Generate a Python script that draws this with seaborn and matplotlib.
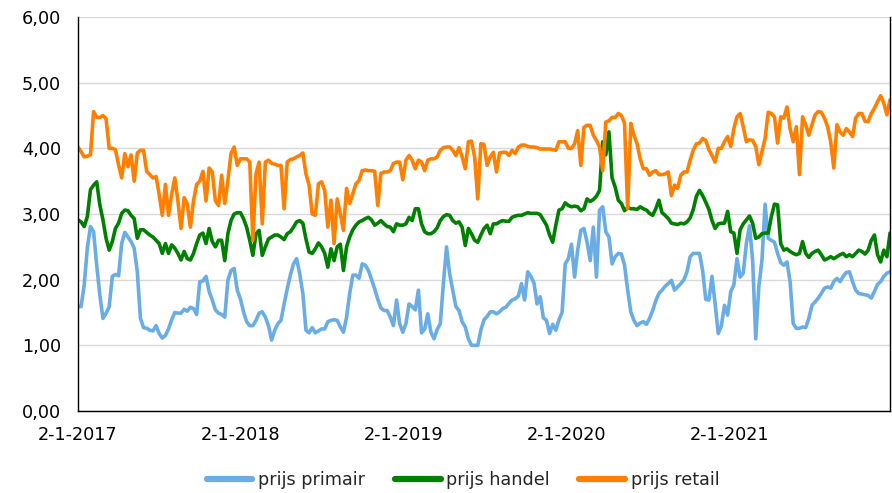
import matplotlib
matplotlib.use("Agg")
import matplotlib.pyplot as plt
import matplotlib.ticker as mticker
import pandas as pd
import seaborn as sns

# weekly prices, first week 2-1-2017
start_date = "2017-01-02"

prijs_primair = [
    1.59, 1.59, 1.92, 2.48, 2.81, 2.73, 2.22, 1.77, 1.41, 1.49, 1.59, 2.05, 2.08, 2.06, 2.55, 2.72,
    2.65, 2.58, 2.48, 2.12, 1.41, 1.27, 1.26, 1.23, 1.22, 1.30, 1.18, 1.11, 1.15, 1.25, 1.39, 1.50,
    1.49, 1.49, 1.55, 1.52, 1.58, 1.56, 1.47, 1.97, 1.98, 2.05, 1.82, 1.69, 1.54, 1.49, 1.47, 1.43,
    1.99, 2.14, 2.17,
    1.84, 1.71, 1.51, 1.36, 1.30, 1.30, 1.38, 1.49, 1.51, 1.43, 1.30, 1.08, 1.23, 1.33, 1.38, 1.63,
    1.86, 2.07, 2.24, 2.32, 2.09, 1.79, 1.23, 1.19, 1.27, 1.19, 1.22, 1.25, 1.25, 1.36, 1.38, 1.39,
    1.38, 1.28, 1.20, 1.43, 1.79, 2.07, 2.07, 2.02, 2.24, 2.22, 2.14, 2.00, 1.86, 1.70, 1.57, 1.53,
    1.53, 1.43, 1.30, 1.69, 1.33, 1.20, 1.33, 1.63,
    1.59, 1.54, 1.84, 1.19, 1.25, 1.48, 1.20, 1.10, 1.24, 1.33, 1.94, 2.50, 2.09, 1.84, 1.59, 1.53,
    1.36, 1.28, 1.10, 1.00, 1.00, 1.00, 1.23, 1.39, 1.44, 1.51, 1.51, 1.48, 1.51, 1.56, 1.58, 1.64,
    1.69, 1.71, 1.75, 1.94, 1.69, 2.12, 2.05, 1.95, 1.63, 1.74, 1.42, 1.38, 1.18, 1.32, 1.23, 1.39,
    1.50, 2.24, 2.32, 2.54, 2.04, 2.45, 2.75, 2.78, 2.57, 2.29, 2.80, 2.04, 3.06, 3.11, 2.73, 2.65,
    2.24, 2.35, 2.40, 2.39, 2.22, 1.84, 1.51, 1.38, 1.30, 1.34, 1.36, 1.32, 1.41, 1.53, 1.68, 1.79,
    1.84, 1.90, 1.94, 1.99, 1.84, 1.89, 1.94, 2.00, 2.12, 2.35, 2.40, 2.40, 2.40, 2.14, 1.70, 1.69,
    2.05, 1.63, 1.18,
    1.30, 1.61, 1.46, 1.82, 1.92, 2.32, 2.04, 2.10, 2.55, 2.82, 2.30, 1.10, 1.90, 2.30,
    3.15, 2.63, 2.60, 2.57, 2.40, 2.26, 2.22, 2.27, 1.97, 1.33, 1.26, 1.26, 1.28, 1.27, 1.41, 1.61,
    1.66, 1.72, 1.79, 1.87, 1.89, 1.87, 1.97, 2.02, 1.97, 2.05, 2.11, 2.12, 1.97, 1.84, 1.79, 1.78,
    1.77, 1.76, 1.72, 1.82, 1.93, 1.97, 2.05, 2.10, 2.12,
]

prijs_handel = [
    2.91, 2.88, 2.81, 2.96, 3.37, 3.44, 3.49, 3.14, 2.91, 2.63, 2.45, 2.58, 2.78, 2.86, 3.01, 3.06,
    3.05, 2.98, 2.93, 2.63, 2.76, 2.76, 2.72, 2.68, 2.65, 2.60, 2.55, 2.40, 2.55, 2.40, 2.53, 2.48,
    2.40, 2.30, 2.43, 2.32, 2.30, 2.40, 2.55, 2.68, 2.71, 2.55, 2.78, 2.58, 2.50, 2.60, 2.60, 2.29,
    2.70, 2.90, 3.00, 3.02,
    3.02, 2.93, 2.80, 2.60, 2.37, 2.70, 2.75, 2.37, 2.50, 2.62, 2.65, 2.68, 2.68, 2.65, 2.61, 2.70,
    2.73, 2.80, 2.88, 2.90, 2.86, 2.62, 2.42, 2.40, 2.47, 2.56, 2.50, 2.40, 2.19, 2.47, 2.29, 2.50,
    2.54, 2.14, 2.50, 2.65, 2.76, 2.83, 2.88, 2.90, 2.93, 2.95, 2.91, 2.83, 2.86, 2.90, 2.85, 2.81,
    2.80, 2.73, 2.85, 2.83, 2.83, 2.85, 2.95,
    2.90, 3.08, 3.08, 2.85, 2.73, 2.70, 2.70, 2.73, 2.79, 2.90, 2.96, 2.99, 2.98, 2.90, 2.86, 2.88,
    2.80, 2.52, 2.78, 2.70, 2.60, 2.57, 2.68, 2.78, 2.83, 2.70, 2.85, 2.85, 2.88, 2.90, 2.89, 2.89,
    2.95, 2.97, 2.98, 2.98, 3.00, 3.02, 3.01, 3.01, 3.01, 2.99, 2.91, 2.83, 2.68, 2.57, 2.83, 3.06,
    3.08, 3.17, 3.13, 3.11, 3.12, 3.11, 3.05, 3.08, 3.23, 3.19, 3.22, 3.27, 3.36, 4.10, 3.90, 4.25,
    3.55, 3.41, 3.21, 3.16, 3.05, 3.10, 3.08, 3.08, 3.07, 3.11, 3.08, 3.06, 3.01, 2.98, 3.08, 3.21,
    3.02, 2.98, 2.93, 2.86, 2.85, 2.84, 2.86, 2.85, 2.88, 2.94, 3.07, 3.27, 3.36, 3.28, 3.18, 3.07,
    2.90, 2.78, 2.85,
    2.86, 2.86, 3.04, 2.73, 2.71, 2.40, 2.76, 2.85, 2.91, 2.97, 2.86, 2.63, 2.65, 2.70,
    2.71, 2.71, 2.96, 3.15, 3.14, 2.55, 2.45, 2.47, 2.43, 2.40, 2.38, 2.40, 2.58, 2.40, 2.34, 2.40,
    2.43, 2.45, 2.38, 2.30, 2.32, 2.35, 2.32, 2.35, 2.38, 2.40, 2.35, 2.38, 2.35, 2.40, 2.45, 2.43,
    2.39, 2.45, 2.60, 2.68, 2.38, 2.27, 2.45, 2.35, 2.71,
]

prijs_retail = [
    4.02, 3.95, 3.87, 3.88, 3.90, 4.56, 4.47, 4.47, 4.50, 4.45, 4.00, 4.00, 3.98, 3.75, 3.55, 3.92,
    3.72, 3.90, 3.50, 3.93, 3.97, 3.97, 3.65, 3.60, 3.55, 3.57, 3.30, 2.98, 3.45, 2.98, 3.30, 3.55,
    3.20, 2.78, 3.25, 3.15, 2.80, 3.20, 3.45, 3.50, 3.65, 3.20, 3.70, 3.64, 3.20, 3.13, 3.59, 3.16,
    3.51, 3.92, 4.02, 3.74, 3.84,
    3.84, 3.84, 3.79, 2.60, 3.61, 3.79, 2.85, 3.79, 3.82, 3.77, 3.76, 3.74, 3.74, 3.08, 3.79, 3.83,
    3.84, 3.87, 3.89, 3.93, 3.61, 3.44, 3.00, 2.98, 3.46, 3.49, 3.36, 2.80, 3.21, 2.55, 3.23, 3.00,
    2.75, 3.39, 3.16, 3.31, 3.46, 3.51, 3.66, 3.67, 3.66, 3.66, 3.65, 3.13, 3.62, 3.64, 3.64, 3.66,
    3.77, 3.79, 3.79, 3.52, 3.82, 3.89,
    3.82, 3.69, 3.82, 3.79, 3.66, 3.82, 3.84, 3.84, 3.87, 3.97, 4.01, 4.02, 4.02, 3.97, 3.89, 4.01,
    3.87, 3.69, 4.10, 4.11, 3.87, 3.23, 4.07, 4.06, 3.74, 3.87, 3.94, 3.64, 3.93, 3.94, 3.94, 3.89,
    3.97, 3.92, 4.02, 4.05, 4.05, 4.03, 4.02, 4.02, 4.01, 3.99, 3.99, 3.99, 3.99, 3.98, 3.97, 4.10,
    4.10, 4.10, 4.00, 4.00, 4.07, 4.27, 3.74, 4.32, 4.35, 4.35, 4.20, 4.12, 4.02, 3.66, 4.40, 4.42,
    4.47, 4.47, 4.53, 4.50, 4.38, 3.08, 4.38, 4.20, 4.07, 3.84, 3.69, 3.69, 3.59, 3.64, 3.66, 3.60,
    3.60, 3.61, 3.64, 3.28, 3.44, 3.39, 3.59, 3.64, 3.64, 3.82, 3.97, 4.07, 4.08, 4.15, 4.12, 3.98,
    3.89, 3.79, 4.00,
    4.00, 4.10, 4.18, 4.03, 4.30, 4.48, 4.53, 4.33, 4.10, 4.13, 4.12, 4.03, 3.75, 3.95,
    4.15, 4.55, 4.53, 4.48, 4.08, 4.48, 4.46, 4.63, 4.30, 4.10, 4.33, 3.60, 4.48, 4.36, 4.20, 4.36,
    4.51, 4.56, 4.55, 4.46, 4.33, 4.10, 3.70, 4.36, 4.25, 4.20, 4.30, 4.25, 4.18, 4.46, 4.53, 4.53,
    4.41, 4.41, 4.53, 4.61, 4.71, 4.80, 4.69, 4.51, 4.74,
]

series_names = ["prijs primair", "prijs handel", "prijs retail"]
series_colors = ["#6AADE4", "#008000", "#FF7F00"]
tick_dates = ["2017-01-02", "2018-01-02", "2019-01-02", "2020-01-02", "2021-01-02"]
tick_labels = ["2-1-2017", "2-1-2018", "2-1-2019", "2-1-2020", "2-1-2021"]

dates = pd.date_range(start_date, periods=len(prijs_retail), freq="7D")
wide = pd.DataFrame(
    {"datum": dates, series_names[0]: prijs_primair,
     series_names[1]: prijs_handel, series_names[2]: prijs_retail}
)
df = wide.melt(id_vars="datum", var_name="reeks", value_name="prijs")

sns.set_style("white")
plt.rcParams["font.family"] = ["DejaVu Sans"]
font_size = 12.7

fig = plt.figure(figsize=(8.92, 4.93), dpi=100)
ax = fig.add_axes([0.0874, 0.1663, 0.9104, 0.7992])

sns.lineplot(data=df, x="datum", y="prijs", hue="reeks", palette=series_colors,
             hue_order=series_names, linewidth=2.6, ax=ax, legend=False)

ax.set_xlim(dates[0], dates[-1])
ax.set_ylim(0, 6)
ax.yaxis.set_major_locator(mticker.MultipleLocator(1))
ax.yaxis.set_major_formatter(mticker.FuncFormatter(lambda v, _: f"{v:.2f}".replace(".", ",")))
ax.set_xticks(pd.to_datetime(tick_dates))
ax.set_xticklabels(tick_labels)
ax.set_xlabel("")
ax.set_ylabel("")

ax.grid(axis="y", color="#D9D9D9", linewidth=1.0)
ax.grid(axis="x", visible=False)
ax.set_axisbelow(True)
for side in ["left", "bottom", "right"]:
    ax.spines[side].set_color("#000000")
    ax.spines[side].set_linewidth(1.0)
ax.spines["top"].set_visible(False)
ax.tick_params(axis="both", labelsize=font_size, colors="black", length=5, width=1, direction="out")
ax.tick_params(axis="y", pad=7)
ax.tick_params(axis="x", pad=6)

handles = [plt.Line2D([], [], color=c, linewidth=4.5) for c in series_colors]
ax.legend(handles, series_names, loc="center", bbox_to_anchor=(0.474, -0.175), ncol=3,
          frameon=False, fontsize=font_size, handlelength=2.6, handletextpad=0.3,
          columnspacing=1.7)

fig.savefig("out.png", dpi=100)
